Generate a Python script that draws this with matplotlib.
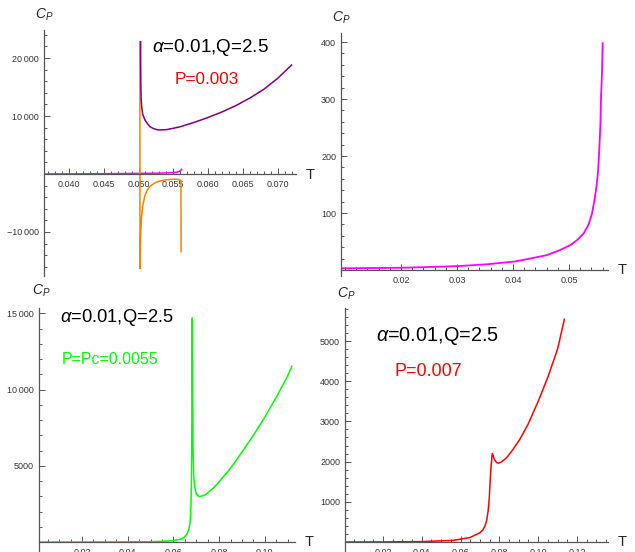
import numpy as np
import matplotlib
matplotlib.use("Agg")
import matplotlib.pyplot as plt
from matplotlib.ticker import FuncFormatter

plt.rcParams['font.family'] = ['Liberation Sans', 'DejaVu Sans']
plt.rcParams['mathtext.fontset'] = 'custom'
plt.rcParams['mathtext.rm'] = 'Liberation Sans'
plt.rcParams['mathtext.it'] = 'Liberation Sans:italic'

W, H = 635, 552

# ---- data ----
# top left, P=0.003
purple_T = [0.05030, 0.05031, 0.05033, 0.05038, 0.05046, 0.0506, 0.05093, 0.0513,
            0.05165, 0.0522, 0.05285, 0.0540, 0.0550, 0.0560, 0.0580, 0.0600,
            0.0620, 0.0640, 0.0660, 0.0680, 0.0700, 0.0720]
purple_Cp = [22800, 19000, 15600, 13000, 11600, 10300, 9310, 8650,
             8160, 7800, 7590, 7650, 7880, 8150, 8900, 9750,
             10700, 11800, 13100, 14600, 16500, 18790]
orange_T = [0.05020, 0.05021, 0.05023, 0.05026, 0.05030, 0.05035, 0.05040, 0.05050,
            0.05060, 0.05075, 0.05090, 0.0511, 0.0513, 0.0516, 0.0520, 0.0525,
            0.0530, 0.0535, 0.0540, 0.0545, 0.0550, 0.0554, 0.0558, 0.05610, 0.05612]
orange_Cp = [22800, -16300, -15000, -13000, -11000, -9300, -8000, -6600,
             -5600, -4600, -3800, -3200, -2700, -2200, -1800, -1450,
             -1250, -1100, -1000, -940, -900, -910, -960, -1100, -13400]
magenta1_T = [0.0365, 0.045, 0.050, 0.053, 0.054, 0.055, 0.0555, 0.0558, 0.0560, 0.0562]
magenta1_Cp = [0, 50, 100, 150, 200, 260, 320, 420, 550, 800]

# top right, zoom of small branch
magenta_T = [0.0094, 0.0150, 0.0204, 0.0260, 0.0304, 0.0353, 0.0404, 0.0430, 0.0460,
             0.0484, 0.0503, 0.0515, 0.0526, 0.0535, 0.0541, 0.0545, 0.0549, 0.0552,
             0.0554, 0.0556, 0.0557, 0.0559, 0.0560]
magenta_Cp = [3, 3.5, 4, 5.5, 7, 10, 15, 20, 26,
              35, 44, 53, 64, 80, 99, 120, 146, 175,
              211, 255, 298, 350, 398]

# bottom left, P=Pc=0.0055
green_T = [0.0016, 0.0300, 0.0500, 0.0571, 0.0600, 0.0629, 0.0645, 0.0658, 0.0667,
           0.0673, 0.0677, 0.0679, 0.0681, 0.0682, 0.0684, 0.0686, 0.0689, 0.0693,
           0.0700, 0.0714, 0.0740, 0.0775, 0.0800, 0.0850, 0.0900, 0.0950, 0.1000,
           0.1050, 0.1100, 0.1118]
green_Cp = [0, 5, 20, 60, 100, 170, 280, 500, 800,
            1260, 2500, 4320, 9000, 14700, 9500, 6000, 4300, 3600,
            3150, 2970, 3100, 3550, 3950, 4850, 5900, 7000, 8200,
            9500, 10900, 11530]

# bottom right, P=0.007
red_T = [0.0004, 0.0200, 0.0400, 0.0562, 0.0648, 0.0700, 0.0715, 0.0726, 0.0735,
         0.0743, 0.0748, 0.0752, 0.0756, 0.0759, 0.0762, 0.0764, 0.0768, 0.0772,
         0.0777, 0.0785, 0.0795, 0.0810, 0.0838, 0.0870, 0.0906, 0.0950, 0.1000,
         0.1050, 0.1100, 0.1135]
red_Cp = [0, 2, 10, 40, 110, 230, 300, 400, 550,
          810, 1100, 1480, 1800, 1970, 2150, 2200, 2150, 2080,
          2030, 1980, 1960, 1990, 2100, 2300, 2560, 2950, 3500,
          4100, 4800, 5540]

AX = '#555555'
TXT = '#333333'


def px(x, y):
    return x / W, 1 - y / H


def thin(v):
    s = '%d' % abs(v)
    if len(s) > 4:
        s = s[:-3] + '\u2009' + s[-3:]
    return ('\u2212' if v < 0 else '') + s


def make_ax(fig, box, xlim, ylim, xmaj, xminor, ymaj, yminor, xfmt, fs=6.5):
    x0, x1, ytop, ybot = box
    ax = fig.add_axes([x0 / W, 1 - ybot / H, (x1 - x0) / W, (ybot - ytop) / H])
    ax.set_facecolor('none')
    ax.set_xlim(xlim)
    ax.set_ylim(ylim)
    for s in ['top', 'right']:
        ax.spines[s].set_visible(False)
    ax.spines['bottom'].set_position(('data', 0))
    for s in ['bottom', 'left']:
        ax.spines[s].set_color(AX)
        ax.spines[s].set_linewidth(0.9)
    ax.set_xticks(xmaj)
    ax.set_xticks([t for t in xminor if min(abs(t - m) for m in xmaj) > 1e-9], minor=True)
    ax.set_yticks(ymaj)
    ax.set_yticks([t for t in yminor if min(abs(t - m) for m in ymaj) > 1e-9], minor=True)
    ax.xaxis.set_major_formatter(FuncFormatter(lambda v, p: xfmt % v))
    ax.yaxis.set_major_formatter(FuncFormatter(lambda v, p: thin(v)))
    ax.tick_params(which='both', direction='in', color=AX, width=0.7,
                   labelsize=fs, labelcolor=TXT)
    ax.tick_params(axis='x', pad=4.5)
    ax.tick_params(axis='y', pad=3.5)
    ax.tick_params(which='major', length=4)
    ax.tick_params(which='minor', length=2.3)
    return ax


fig = plt.figure(figsize=(W / 100, H / 100), dpi=100)

# panel 1
ax1 = make_ax(fig, (44, 296, 30, 276), (0.03642, 0.07263), (-17590, 24830),
              np.arange(0.040, 0.0701, 0.005), np.arange(0.037, 0.073, 0.001),
              [-10000, 10000, 20000], np.arange(-16000, 24001, 2000), '%.3f')
ax1.plot(magenta1_T, magenta1_Cp, color='#ff00ff', lw=1.1)
ax1.plot(orange_T, orange_Cp, color='#ff8000', lw=1.1)
ax1.plot(purple_T, purple_Cp, color='#800080', lw=1.1)

# panel 2
ax2 = make_ax(fig, (341, 608, 33, 276), (0.00929, 0.05696), (-10.5, 415.8),
              [0.02, 0.03, 0.04, 0.05], np.arange(0.010, 0.057, 0.002),
              [100, 200, 300, 400], np.arange(20, 401, 20), '%.2f')
ax2.plot(magenta_T, magenta_Cp, color='#ff00ff', lw=1.3)

# panel 3
ax3 = make_ax(fig, (39, 295, 308, 552), (0.00118, 0.1132), (-655, 15354),
              [0.02, 0.04, 0.06, 0.08, 0.10], np.arange(0.005, 0.113, 0.005),
              [5000, 10000, 15000], np.arange(1000, 15001, 1000), '%.2f')
ax3.plot(green_T, green_Cp, color='#00ff00', lw=1.1)

# panel 4
ax4 = make_ax(fig, (345, 608, 308, 552), (0.00041, 0.1360), (-249, 5821),
              [0.02, 0.04, 0.06, 0.08, 0.10, 0.12], np.arange(0.005, 0.136, 0.005),
              [1000, 2000, 3000, 4000, 5000], np.arange(200, 5801, 200), '%.2f')
ax4.plot(red_T, red_Cp, color='#ff0000', lw=1.1)

# axis labels
for (cx, cy) in [(44, 15), (341, 18), (41, 291), (346, 294)]:
    fig.text(*px(cx, cy), r'$C_P$', fontsize=10, color='#222222', ha='center', va='center')
for (tx, ty) in [(310, 175), (622, 270), (309, 542), (622, 542)]:
    fig.text(*px(tx, ty), 'T', fontsize=10.5, color='#222222', ha='center', va='center')

# annotations
ttl = r'$\alpha$=0.01,Q=2.5'
fig.text(*px(152, 48), ttl, fontsize=13.6, color='black', va='center')
fig.text(*px(175, 80), 'P=0.003', fontsize=12.3, color='#ff0000', va='center')
fig.text(*px(60, 318), ttl, fontsize=13.2, color='black', va='center')
fig.text(*px(62, 359), 'P=Pc=0.0055', fontsize=11.5, color='#00ff00', va='center')
fig.text(*px(376, 336), ttl, fontsize=14.3, color='black', va='center')
fig.text(*px(394, 371), 'P=0.007', fontsize=13, color='#ff0000', va='center')

fig.savefig('out.png', dpi=100)
